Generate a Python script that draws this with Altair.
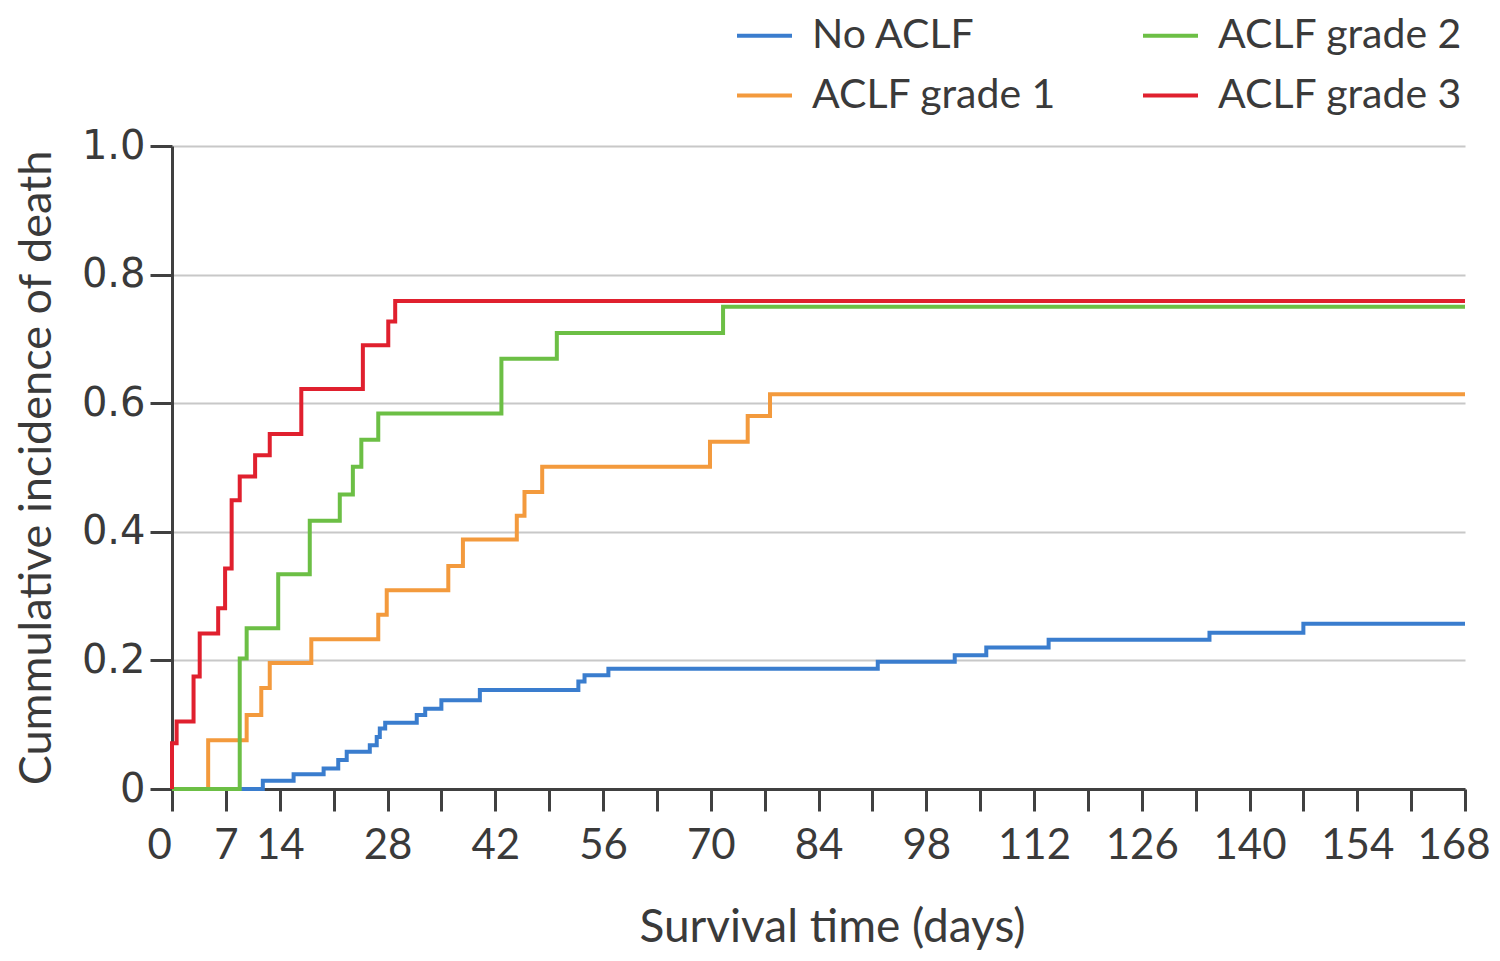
import altair as alt
import pandas as pd

# ---- data ----
no_aclf_days = [0, 11.8, 15.8, 19.7, 21.6, 22.7, 25.7, 26.6, 27.0, 27.7, 31.8, 32.9, 35.0, 40.0,
                52.8, 53.6, 56.7, 91.7, 101.7, 105.8, 113.9, 134.8, 147.0, 168]
no_aclf_vals = [0, 0.013, 0.023, 0.032, 0.045, 0.058, 0.068, 0.081, 0.094, 0.103, 0.115, 0.125, 0.138, 0.154,
                0.167, 0.177, 0.187, 0.198, 0.208, 0.220, 0.232, 0.243, 0.257, 0.257]

g1_days = [0, 4.7, 9.7, 11.6, 12.7, 18.1, 26.8, 27.9, 35.9, 37.8, 44.8, 45.8, 48.1, 69.9, 74.8, 77.7, 168]
g1_vals = [0, 0.076, 0.115, 0.157, 0.196, 0.233, 0.271, 0.309, 0.347, 0.388, 0.425, 0.462, 0.501,
           0.540, 0.580, 0.614, 0.614]

g2_days = [0, 8.8, 9.7, 13.8, 17.9, 21.8, 23.5, 24.6, 26.8, 42.8, 50.0, 71.6, 168]
g2_vals = [0, 0.203, 0.250, 0.334, 0.417, 0.458, 0.501, 0.543, 0.584, 0.669, 0.709, 0.750, 0.750]

g3_days = [0, 0, 0.6, 2.8, 3.6, 6.0, 6.9, 7.75, 8.8, 10.8, 12.7, 16.8, 24.8, 28.1, 29.0, 168]
g3_vals = [0, 0.071, 0.105, 0.175, 0.242, 0.281, 0.343, 0.449, 0.486, 0.519, 0.552, 0.622, 0.690,
           0.727, 0.759, 0.759]

series_names = ["No ACLF", "ACLF grade 1", "ACLF grade 2", "ACLF grade 3"]
series_colors = ["#3a7dce", "#f39a3d", "#6cbf45", "#e0202e"]

x_tick_values = list(range(0, 169, 7))
y_tick_values = [0, 0.2, 0.4, 0.6, 0.8, 1.0]

TEXT = "#3a3a3a"
AXIS = "#404040"

x_enc = alt.X(
    "day:Q",
    scale=alt.Scale(domain=[0, 168], nice=False, zero=True),
    axis=alt.Axis(
        values=x_tick_values,
        labelExpr="datum.value == 0 ? '\u20050' : ((datum.value == 21 || (datum.value > 14 && datum.value % 14 != 0)) ? '' : datum.label)",
        title="Survival time (days)",
        grid=False,
        tickSize=22, tickWidth=3, tickColor=AXIS,
        domainColor=AXIS, domainWidth=3,
        labelFont="Lato", labelFontSize=42, labelColor=TEXT, labelPadding=14,
        labelOverlap=False, labelFlush=True, labelFlushOffset=25,
        titleFont="Lato", titleFontSize=46, titleFontWeight="normal", titleColor=TEXT,
        titleX=660, titleY=152, titleAlign="center", titleBaseline="alphabetic",
    ),
)

y_enc = alt.Y(
    "value:Q",
    scale=alt.Scale(domain=[0, 1], nice=False),
    axis=alt.Axis(
        values=y_tick_values,
        labelExpr="datum.value == 0 ? '0' : format(datum.value, '.1f')",
        title="Cummulative incidence of death",
        grid=True, gridColor="#c8c8c8", gridWidth=2,
        tickSize=22, tickWidth=3, tickColor=AXIS,
        domainColor=AXIS, domainWidth=3,
        labelFont="DejaVu Sans", labelFontSize=40, labelColor=TEXT, labelPadding=5,
        labelOverlap=False,
        titleFont="Lato", titleFontSize=45, titleFontWeight="normal", titleColor=TEXT,
        titlePadding=22,
    ),
)

color_enc = alt.Color(
    "group:N",
    scale=alt.Scale(domain=series_names, range=series_colors),
    legend=alt.Legend(
        title=None, orient="none", legendX=563, legendY=-140,
        columns=2, symbolType="stroke", symbolSize=3025, symbolStrokeWidth=4,
        labelFont="Lato", labelFontSize=41, labelColor=TEXT,
        columnPadding=78, rowPadding=10, labelOffset=18, labelLimit=0,
    ),
)

all_days = [no_aclf_days, g1_days, g2_days, g3_days]
all_vals = [no_aclf_vals, g1_vals, g2_vals, g3_vals]

layers = []
for name, d, v in zip(series_names, all_days, all_vals):
    df = pd.DataFrame({"day": d, "value": v, "group": name})
    layers.append(
        alt.Chart(df).mark_line(interpolate="step-after", strokeWidth=4).encode(
            x=x_enc, y=y_enc, color=color_enc
        )
    )

chart = (
    alt.layer(*layers)
    .properties(
        width=1293, height=643,
        autosize=alt.AutoSizeParams(type="none"),
        padding={"left": 164, "top": 138, "right": 27, "bottom": 162},
        background="white",
    )
    .configure_view(stroke=None)
)

chart.save("out.html", embed_options={"renderer": "svg", "actions": False})
